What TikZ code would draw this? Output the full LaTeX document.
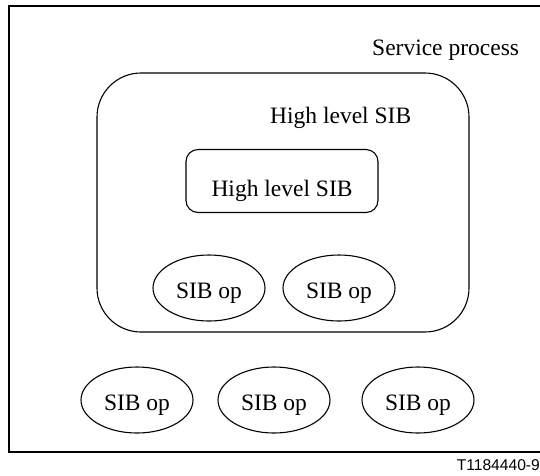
\documentclass[tikz,border=0pt]{standalone}
\usepackage{fontspec}
\setmainfont{Liberation Serif}
\newfontfamily\labelfont{Liberation Sans}
\usetikzlibrary{shapes.geometric}
\begin{document}
\begin{tikzpicture}[x=1pt,y=-1pt,
  every node/.style={font=\fontsize{23.5}{28}\selectfont},
  txt/.style={inner sep=0pt, anchor=base west},
  frame/.style={draw, line width=1.3pt},
  bigbox/.style={draw, line width=1.1pt, rectangle, rounded corners=44pt,
    minimum width=372pt, minimum height=259pt, inner sep=0pt},
  smallbox/.style={draw, line width=1.1pt, rectangle, rounded corners=12pt,
    minimum width=192pt, minimum height=63pt, inner sep=0pt,
    text height=30pt, text depth=0pt},
  sibop/.style={draw, line width=1.1pt, ellipse, inner sep=0pt,
    minimum width=112pt, minimum height=66pt,
    text height=22pt, text depth=2pt}]
\useasboundingbox (0,0) rectangle (540,475);
\draw[frame] (540,6) -- (9,6) -- (9,452) -- (540,452);
\node[txt] (sp) at (372,55) {Service process};
\node[bigbox] (hl) at (283,202.5) {};
\node[txt] (hllab) at (270,123) {High level SIB};
\node[smallbox] (hl2) at (282,181) {High level SIB};
\node[sibop] (o1) at (209,288) {SIB op};
\node[sibop] (o2) at (339,288) {SIB op};
\node[sibop] (o3) at (137,400) {SIB op};
\node[sibop] (o4) at (274,400) {SIB op};
\node[sibop] (o5) at (418,400) {SIB op};
\node[inner sep=0pt, anchor=base east, font=\labelfont\fontsize{15.6}{18}\selectfont] (id) at (540,470) {T1184440-9};
\end{tikzpicture}
\end{document}
